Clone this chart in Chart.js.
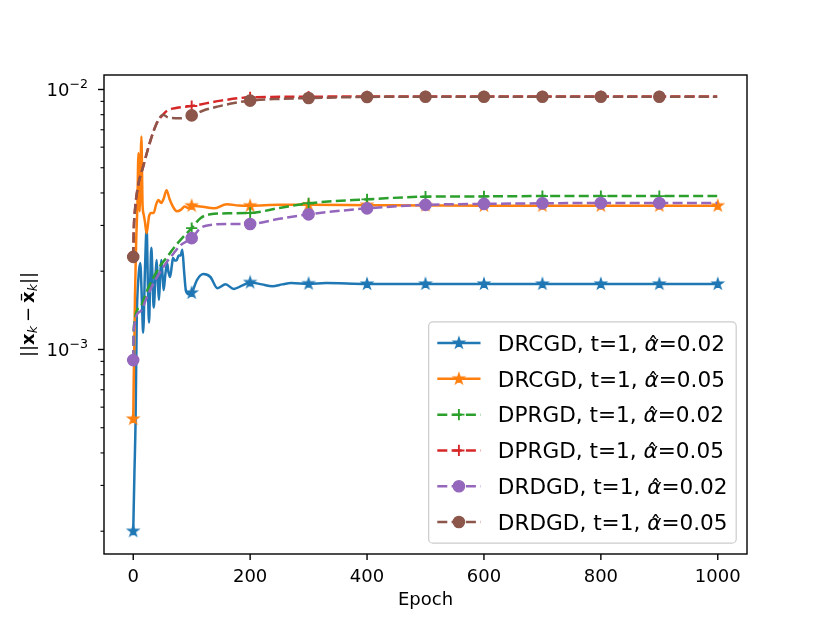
<!DOCTYPE html>
<html lang="en">
<head>
<meta charset="UTF-8">
<title>Consensus error vs epoch</title>
<script src="https://cdn.jsdelivr.net/npm/chart.js@4.4.1/dist/chart.umd.min.js"></script>
<style>
  body { margin: 0; background: #fff; }
  #wrap { width: 830px; height: 623px; }
</style>
</head>
<body>
<div id="wrap"><canvas id="chart" width="830" height="623"></canvas></div>

<script>
// values
const xTicks = [0, 200, 400, 600, 800, 1000];
const yTicks = [2e-4, 3e-4, 4e-4, 5e-4, 6e-4, 7e-4, 8e-4, 9e-4,
                1e-3, 2e-3, 3e-3, 4e-3, 5e-3, 6e-3, 7e-3, 8e-3, 9e-3, 1e-2];

const methods = ['DRCGD', 'DRCGD', 'DPRGD', 'DPRGD', 'DRDGD', 'DRDGD'];
const alphaHat = ['0.02', '0.05', '0.02', '0.05', '0.02', '0.05'];

const drcgd02Epoch = [0,2,4,6,9,12,15,17,20,23,25,27,29,31,33,35,38,40,42,44,46,48,50,52,55,58,60,63,66,68,71,74,78,81,84,87,90,95,100,109,120,132,144,158,172,186,200,220,238,255,270,300,330,400,500,600,700,800,900,1000];
const drcgd02Err = [2.0e-4,3.3e-4,5.3e-4,1.3e-3,1.9e-3,2.15e-3,1.5e-3,1.16e-3,2.0e-3,2.93e-3,1.8e-3,1.27e-3,1.8e-3,2.46e-3,1.9e-3,1.45e-3,1.9e-3,2.21e-3,1.85e-3,1.55e-3,1.9e-3,2.21e-3,1.95e-3,1.69e-3,1.95e-3,2.15e-3,2.0e-3,1.9e-3,2.1e-3,2.25e-3,2.2e-3,2.2e-3,2.3e-3,2.3e-3,2.42e-3,2.0e-3,1.69e-3,1.63e-3,1.65e-3,1.85e-3,1.95e-3,1.9e-3,1.72e-3,1.78e-3,1.71e-3,1.76e-3,1.81e-3,1.78e-3,1.75e-3,1.78e-3,1.8e-3,1.79e-3,1.8e-3,1.785e-3,1.786e-3,1.786e-3,1.786e-3,1.786e-3,1.786e-3,1.786e-3];

const drcgd05Epoch = [0,1,2,3,5,7,9,11,14,16,18,20,23,27,31,35,39,43,48,52,57,62,68,75,82,88,94,100,115,138,160,180,200,250,300,400,500,600,700,800,900,1000];
const drcgd05Err = [5.4e-4,8e-4,1.1e-3,1.6e-3,2.6e-3,3.5e-3,5.7e-3,3.4e-3,6.6e-3,3.6e-3,3.3e-3,3.1e-3,2.8e-3,3.25e-3,3.35e-3,3.35e-3,3.6e-3,3.76e-3,3.66e-3,3.8e-3,4.1e-3,3.8e-3,3.54e-3,3.4e-3,3.45e-3,3.55e-3,3.5e-3,3.57e-3,3.55e-3,3.49e-3,3.62e-3,3.58e-3,3.57e-3,3.6e-3,3.6e-3,3.59e-3,3.58e-3,3.57e-3,3.57e-3,3.57e-3,3.57e-3,3.57e-3];

const dprgd02Epoch = [0,1,12,24,35,47,58,69,81,100,115,132,166,200,250,300,400,500,600,700,800,900,999];
const dprgd02Err = [9.1e-4,1.22e-3,1.46e-3,1.69e-3,1.9e-3,2.11e-3,2.27e-3,2.45e-3,2.64e-3,2.93e-3,3.2e-3,3.31e-3,3.34e-3,3.35e-3,3.5e-3,3.65e-3,3.78e-3,3.87e-3,3.88e-3,3.89e-3,3.89e-3,3.89e-3,3.89e-3];

const dprgd05Epoch = [0,1,3,8,17,28,40,51,58,75,100,150,200,300,400,500,600,700,800,900,999];
const dprgd05Err = [2.27e-3,2.9e-3,3.44e-3,4.23e-3,5.05e-3,6.2e-3,7.4e-3,8.0e-3,8.29e-3,8.5e-3,8.64e-3,9.06e-3,9.33e-3,9.38e-3,9.4e-3,9.4e-3,9.4e-3,9.4e-3,9.4e-3,9.4e-3,9.4e-3];

const drdgd02Epoch = [0,1,12,24,35,47,58,69,81,100,115,132,166,200,250,300,400,500,600,700,800,900,999];
const drdgd02Err = [9.1e-4,1.2e-3,1.4e-3,1.6e-3,1.8e-3,2.0e-3,2.18e-3,2.34e-3,2.52e-3,2.68e-3,2.93e-3,3.01e-3,3.04e-3,3.04e-3,3.18e-3,3.31e-3,3.49e-3,3.6e-3,3.63e-3,3.65e-3,3.66e-3,3.66e-3,3.66e-3];

const drdgd05Epoch = [0,1,3,8,17,28,40,51,60,80,100,120,144,170,200,250,300,400,500,600,700,800,900,999];
const drdgd05Err = [2.27e-3,2.9e-3,3.44e-3,4.23e-3,5.05e-3,6.2e-3,7.4e-3,8.0e-3,7.8e-3,7.75e-3,7.95e-3,8.3e-3,8.59e-3,8.85e-3,9.06e-3,9.2e-3,9.27e-3,9.36e-3,9.38e-3,9.38e-3,9.38e-3,9.38e-3,9.38e-3,9.38e-3];

const FONT = '"DejaVu Sans", "Liberation Sans", sans-serif';
const LW = 2.5;
const DASH = [10, 4.3];

// filled five point star like the matplotlib '*' marker
function starMarker(color) {
    const c = document.createElement('canvas');
    c.width = 16; c.height = 16;
    const g = c.getContext('2d');
    g.beginPath();
    for (let i = 0; i < 10; i++) {
        const r = i % 2 === 0 ? 5.6 : 5.6 * 0.382;
        const a = -Math.PI / 2 + i * Math.PI / 5;
        const px = 8 + r * Math.cos(a), py = 8 + r * Math.sin(a);
        if (i === 0) g.moveTo(px, py); else g.lineTo(px, py);
    }
    g.closePath();
    g.fillStyle = color; g.fill();
    g.strokeStyle = color; g.lineWidth = 1.3; g.lineJoin = 'miter'; g.stroke();
    return c;
}

const markers = {
    star: { radius: 5, border: 0 },
    plus: { style: 'cross', radius: 5.6, border: 1.9 },
    circle: { style: 'circle', radius: 5.6, border: 1.4 }
};

function series(i, xs, ys, color, marker, dashed, order) {
    const m = markers[marker];
    const style = marker === 'star' ? starMarker(color) : m.style;
    return {
        label: methods[i] + ', t=1, α̂=' + alphaHat[i],
        data: xs.map((x, k) => ({ x: x, y: ys[k] })),
        borderColor: color,
        backgroundColor: color,
        borderWidth: LW,
        borderDash: dashed ? DASH : [],
        pointStyle: style,
        pointBackgroundColor: color,
        pointBorderColor: color,
        pointBorderWidth: m.border,
        pointRadius: ctx => (ctx.raw && ctx.raw.x % 100 === 0 ? m.radius : 0),
        cubicInterpolationMode: 'monotone',
        fill: false,
        order: order,
        _marker: marker, _style: style, _dashed: dashed
    };
}

const datasets = [
    series(0, drcgd02Epoch, drcgd02Err, '#1f77b4', 'star', false, 6),
    series(1, drcgd05Epoch, drcgd05Err, '#ff7f0e', 'star', false, 5),
    series(2, dprgd02Epoch, dprgd02Err, '#2ca02c', 'plus', true, 4),
    series(3, dprgd05Epoch, dprgd05Err, '#d62728', 'plus', true, 3),
    series(4, drdgd02Epoch, drdgd02Err, '#9467bd', 'circle', true, 2),
    series(5, drdgd05Epoch, drdgd05Err, '#8c564b', 'circle', true, 1)
];

function isDecade(v) {
    const l = Math.log10(v);
    return Math.abs(l - Math.round(l)) < 1e-9;
}

// spines, ticks, tick labels and axis titles
const axesDecor = {
    id: 'axesDecor',
    afterDraw(chart) {
        const { ctx, chartArea: a, scales: { x, y } } = chart;
        ctx.save();
        ctx.strokeStyle = '#000';
        ctx.fillStyle = '#000';
        ctx.lineWidth = 1.4;
        ctx.strokeRect(a.left, a.top, a.right - a.left, a.bottom - a.top);

        ctx.font = '18px ' + FONT;
        ctx.textAlign = 'center';
        ctx.textBaseline = 'alphabetic';
        xTicks.forEach(v => {
            const px = x.getPixelForValue(v);
            ctx.beginPath(); ctx.moveTo(px, a.bottom); ctx.lineTo(px, a.bottom + 6); ctx.stroke();
            ctx.fillText(String(v), px, a.bottom + 27.5);
        });
        ctx.fillText('Epoch', (a.left + a.right) / 2, a.bottom + 51);

        yTicks.forEach(v => {
            const py = y.getPixelForValue(v);
            const major = isDecade(v);
            ctx.lineWidth = major ? 1.4 : 1.1;
            ctx.beginPath(); ctx.moveTo(a.left, py); ctx.lineTo(a.left - (major ? 6 : 3.5), py); ctx.stroke();
            if (major) {
                const e = '\u2212' + Math.abs(Math.round(Math.log10(v)));
                const right = a.left - 16;
                ctx.textAlign = 'right';
                ctx.font = '12.6px ' + FONT;
                const ew = ctx.measureText(e).width;
                ctx.fillText(e, right, py + 6.5 - 7.5);
                ctx.font = '18px ' + FONT;
                ctx.fillText('10', right - ew, py + 6.5);
            }
        });

        // y title: ||x_k - x̄_k||
        const parts = [
            { t: '||', f: '18px ' + FONT, dy: 0 },
            { t: 'x', f: 'bold 18px ' + FONT, dy: 0 },
            { t: 'k', f: 'italic 12.6px ' + FONT, dy: 3, after: 4 },
            { t: '\u2212', f: '18px ' + FONT, dy: 0, after: 4 },
            { t: 'x', f: 'bold 18px ' + FONT, dy: 0, bar: true },
            { t: 'k', f: 'italic 12.6px ' + FONT, dy: 3 },
            { t: '||', f: '18px ' + FONT, dy: 0 }
        ];
        let total = 0;
        parts.forEach(p => { ctx.font = p.f; p.w = ctx.measureText(p.t).width; total += p.w + (p.after || 0); });
        ctx.translate(34, (a.top + a.bottom) / 2);
        ctx.rotate(-Math.PI / 2);
        ctx.textAlign = 'left';
        let cx = -total / 2;
        parts.forEach(p => {
            ctx.font = p.f;
            ctx.fillText(p.t, cx, p.dy);
            if (p.bar) {
                ctx.lineWidth = 1.3;
                ctx.beginPath(); ctx.moveTo(cx + 2.5, -12.5); ctx.lineTo(cx + p.w - 2.5, -12.5); ctx.stroke();
            }
            cx += p.w + (p.after || 0);
        });
        ctx.restore();
    }
};

// legend box in the lower right corner of the axes
const cornerLegend = {
    id: 'cornerLegend',
    afterDraw(chart) {
        const { ctx, chartArea: a } = chart;
        const fs = 21.6;
        const pad = 0.4 * fs, handle = 2 * fs, gap = 0.8 * fs, rowH = 25, spacing = 0.5 * fs;
        ctx.save();
        const rows = chart.data.datasets.map((ds, i) => {
            ctx.font = fs + 'px ' + FONT;
            const pre = methods[i] + ', t=1, ';
            const post = '=' + alphaHat[i];
            const wPre = ctx.measureText(pre).width;
            const wPost = ctx.measureText(post).width;
            ctx.font = 'italic ' + fs + 'px ' + FONT;
            const wA = ctx.measureText('α').width;
            return { ds, pre, post, wPre, wA, wPost, w: wPre + wA + wPost };
        });
        const textW = Math.max(...rows.map(r => r.w));
        const right = a.right - 0.5 * fs, bottom = a.bottom - 0.5 * fs;
        const w = 2 * pad + handle + gap + textW;
        const h = 2 * pad + rows.length * rowH + (rows.length - 1) * spacing;
        const left = right - w, top = bottom - h;

        ctx.beginPath();
        ctx.roundRect(left, top, w, h, 4.3);
        ctx.fillStyle = 'rgba(255,255,255,0.8)';
        ctx.fill();
        ctx.strokeStyle = '#cccccc';
        ctx.lineWidth = 1.2;
        ctx.stroke();

        rows.forEach((r, i) => {
            const ds = r.ds;
            const cy = top + pad + rowH / 2 + i * (rowH + spacing);
            const x0 = left + pad, x1 = x0 + handle;
            ctx.strokeStyle = ds.borderColor;
            ctx.lineWidth = LW;
            ctx.setLineDash(ds._dashed ? DASH : []);
            ctx.beginPath(); ctx.moveTo(x0, cy); ctx.lineTo(x1, cy); ctx.stroke();
            ctx.setLineDash([]);
            const mx = (x0 + x1) / 2;
            if (ds._marker === 'star') {
                ctx.drawImage(ds._style, mx - 8, cy - 8);
            } else if (ds._marker === 'plus') {
                ctx.lineWidth = 1.9;
                ctx.beginPath();
                ctx.moveTo(mx - 5.6, cy); ctx.lineTo(mx + 5.6, cy);
                ctx.moveTo(mx, cy - 5.6); ctx.lineTo(mx, cy + 5.6);
                ctx.stroke();
            } else {
                ctx.fillStyle = ds.borderColor;
                ctx.lineWidth = 1.4;
                ctx.beginPath(); ctx.arc(mx, cy, 5.6, 0, Math.PI * 2); ctx.fill(); ctx.stroke();
            }
            let tx = x1 + gap;
            const base = cy + 7.8;
            ctx.fillStyle = '#000';
            ctx.textAlign = 'left';
            ctx.font = fs + 'px ' + FONT;
            ctx.fillText(r.pre, tx, base);
            tx += r.wPre;
            ctx.font = 'italic ' + fs + 'px ' + FONT;
            ctx.fillText('α', tx, base);
            ctx.font = fs + 'px ' + FONT;
            ctx.textAlign = 'center';
            ctx.fillText('\u02c6', tx + r.wA / 2 + 1.5, base + 1);
            ctx.textAlign = 'left';
            tx += r.wA;
            ctx.fillText(r.post, tx, base);
        });
        ctx.restore();
    }
};

new Chart(document.getElementById('chart'), {
    type: 'line',
    data: { datasets: datasets },
    options: {
        responsive: false,
        animation: false,
        events: [],
        layout: { padding: { left: 0, top: 75, right: 83, bottom: 0 } },
        plugins: { legend: { display: false }, tooltip: { enabled: false } },
        scales: {
            x: {
                type: 'linear', min: -50, max: 1050,
                afterBuildTicks: s => { s.ticks = xTicks.map(v => ({ value: v })); },
                afterFit: s => { s.height = 69; },
                grid: { display: false }, border: { display: false },
                ticks: { display: false }
            },
            y: {
                type: 'logarithmic', min: 1.6343e-4, max: 1.1369e-2,
                afterBuildTicks: s => { s.ticks = yTicks.map(v => ({ value: v, major: isDecade(v) })); },
                afterFit: s => { s.width = 104; },
                grid: { display: false }, border: { display: false },
                ticks: { display: false }
            }
        }
    },
    plugins: [axesDecor, cornerLegend]
});
</script>
</body>
</html>
